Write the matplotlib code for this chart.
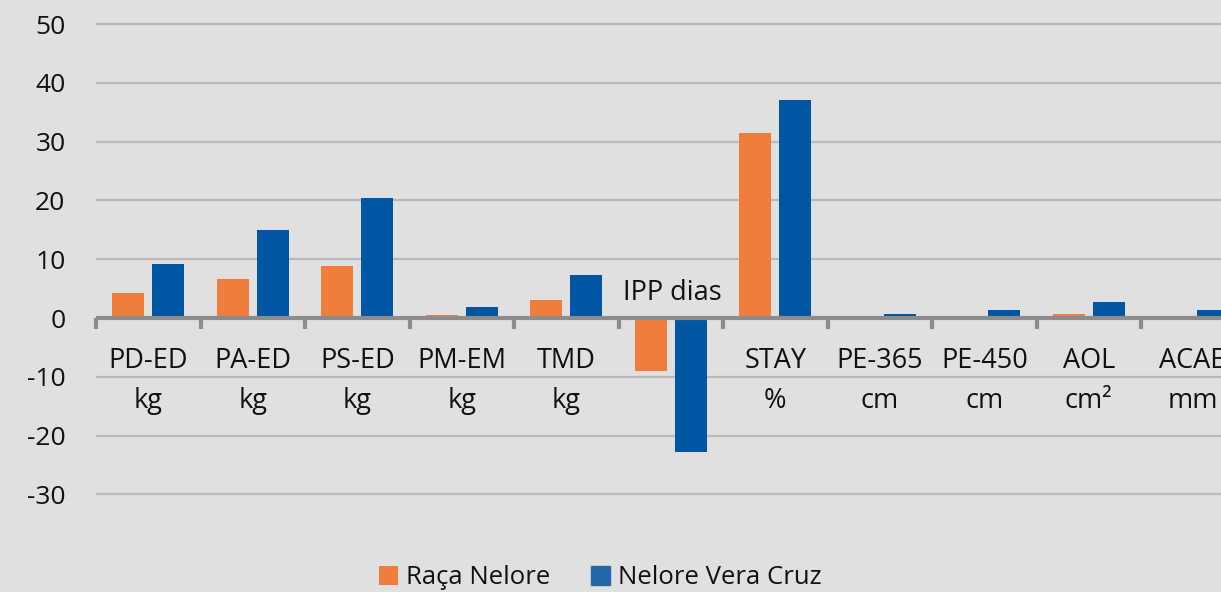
import numpy as np
import matplotlib
matplotlib.use("Agg")
import matplotlib.pyplot as plt

# chart data
categories = ["PD-ED", "PA-ED", "PS-ED", "PM-EM", "TMD", "IPP dias",
              "STAY", "PE-365", "PE-450", "AOL", "ACAB"]
units = ["kg", "kg", "kg", "kg", "kg", "", "%", "cm", "cm", "cm²", "mm"]
raca_nelore = [4.3, 6.6, 8.8, 0.5, 3.1, -9.0, 31.5, 0.0, 0.0, 0.6, 0.0]
vera_cruz = [9.2, 15.0, 20.4, 1.9, 7.3, -22.8, 37.1, 0.7, 1.4, 2.7, 1.4]
yticks = [-30, -20, -10, 0, 10, 20, 30, 40, 50]

ORANGE = "#ef7d3b"
BLUE = "#0056a2"
BG = "#e0e0e0"
TXT = "#111111"

plt.rcParams['font.family'] = ['Open Sans', 'DejaVu Sans']

W, H = 1221, 592
fig = plt.figure(figsize=(W / 100, H / 100), dpi=100)
fig.patch.set_facecolor(BG)

# axes placed in pixels; last category runs off the right edge
px_unit = 5.88
top_px = 24 - 0.5 * px_unit
bot_px = 318 + 30.5 * px_unit
left_px, cat_px = 96, 104.5
ax = fig.add_axes([left_px / W, 1 - bot_px / H,
                   cat_px * len(categories) / W, (bot_px - top_px) / H])
ax.set_facecolor("none")
ax.set_xlim(0, len(categories))
ax.set_ylim(-30.5, 50.5)

x = np.arange(len(categories)) + 0.5
bw = 0.306
ax.bar(x - 0.19, raca_nelore, bw, color=ORANGE, label="Raça Nelore", zorder=3)
ax.bar(x + 0.19, vera_cruz, bw, color=BLUE, label="Nelore Vera Cruz", zorder=3)

for s in ax.spines.values():
    s.set_visible(False)
ax.set_yticks(yticks)
ax.set_yticklabels([str(v) for v in yticks], fontsize=19, color=TXT)
ax.tick_params(axis="y", length=0, pad=22)
ax.set_xticks([])
ax.yaxis.grid(True, color="#b9b9b9", linewidth=1.6, zorder=1)
ax.set_axisbelow(True)

# zero axis with boundary ticks
ax.axhline(0, color="#8c8c8c", linewidth=3, zorder=4)
for b in range(len(categories) + 1):
    ax.plot([b, b], [0, -1.8], color="#8c8c8c", linewidth=3,
            solid_capstyle="butt", zorder=4, clip_on=False)

# category labels
for xi, cat, unit in zip(x, categories, units):
    if unit == "":
        ax.text(xi + 0.02, 4.3, cat, ha="center",
                va="center", fontsize=19.5, color=TXT, zorder=5)
    else:
        ax.text(xi, -7.3, cat, ha="center", va="center", fontsize=19.5,
                color=TXT, zorder=5)
        ax.text(xi, -14.2, unit, ha="center", va="center", fontsize=19.5,
                color=TXT, zorder=5)

leg = fig.legend(loc="center", bbox_to_anchor=(600 / W, 1 - 578 / H), ncol=2,
                 frameon=False, fontsize=18.5, handlelength=0.75,
                 handleheight=0.75, handletextpad=0.3, columnspacing=1.6)
for t in leg.get_texts():
    t.set_color(TXT)
leg.legend_handles[1].set_color("#2266a8")

fig.savefig("out.png", dpi=100, facecolor=BG)
